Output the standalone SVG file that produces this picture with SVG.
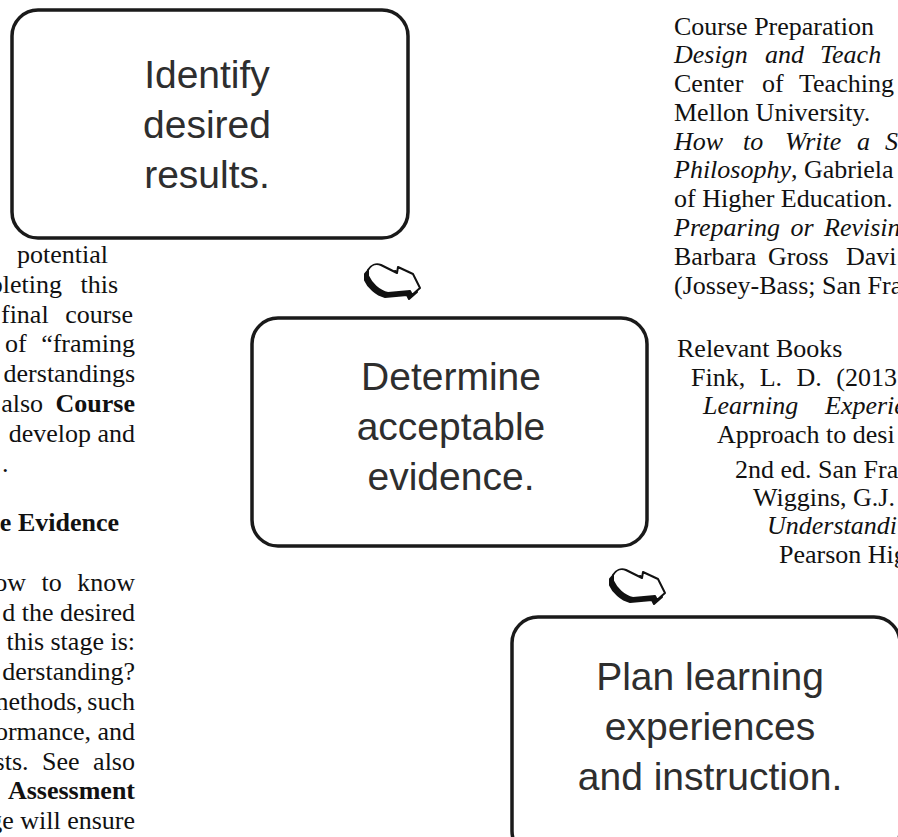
<svg xmlns="http://www.w3.org/2000/svg" width="898" height="837" viewBox="0 0 898 837">
<style>
.box{fill:#fff;stroke:#1a1a1a;stroke-width:3.5}
.bt{font-family:"Liberation Sans",Arial,sans-serif;font-size:39px;fill:#2e2e2e;text-anchor:middle}
.tx{font-family:"Liberation Serif","Times New Roman",serif;font-size:26px;fill:#111}
.l{text-anchor:end}
.b{font-weight:bold}
.i{font-style:italic}
.sh{fill:#111;stroke:#111;stroke-width:2;stroke-linejoin:round}
.ar{fill:#fff;stroke:#111;stroke-width:2;stroke-linejoin:round}
</style>
<defs>
<path id="arr" d="M6,8 C9,3 14,1 19,3 L35,11 L36,5 L51,12 L58,26 L50,33 L48,29 L26,31 C17,29 9,21 6,14 Z"/>
</defs>
<rect width="898" height="837" fill="#fff"/>

<g id="left-text" class="tx">
<text class="l" x="108" y="263">potential</text>
<text class="l" x="118" y="293" word-spacing="12">pleting this</text>
<text class="l" x="133" y="323" word-spacing="10">final course</text>
<text class="l" x="135" y="352" word-spacing="8">of “framing</text>
<text class="l" x="135" y="382">derstandings</text>
<text class="l" x="135" y="412" word-spacing="6">also <tspan class="b">Course</tspan></text>
<text class="l" x="135" y="442">develop and</text>
<text x="2" y="472">.</text>
<text class="l b" x="119" y="531">e Evidence</text>
<text class="l" x="135" y="591" word-spacing="9">ow to know</text>
<text class="l" x="135" y="621">d the desired</text>
<text class="l" x="135" y="650">this stage is:</text>
<text class="l" x="135" y="680">derstanding?</text>
<text class="l" x="135" y="710" word-spacing="-2">nethods, such</text>
<text class="l" x="135" y="740">ormance, and</text>
<text class="l" x="135" y="770" word-spacing="7">sts. See also</text>
<text class="l b" x="135" y="799">Assessment</text>
<text class="l" x="135" y="829">ge will ensure</text>
</g>

<g id="right-text" class="tx">
<text x="674" y="35">Course Preparation</text>
<text class="i" y="63"><tspan x="674">Design</tspan><tspan x="765">and</tspan><tspan x="820">Teach</tspan></text>
<text y="92"><tspan x="674">Center</tspan><tspan x="762">of</tspan><tspan x="799">Teaching</tspan></text>
<text x="674" y="121">Mellon University.</text>
<text class="i" y="150"><tspan x="674">How</tspan><tspan x="743">to</tspan><tspan x="785">Write</tspan><tspan x="857">a</tspan><tspan x="885">S</tspan></text>
<text x="674" y="178"><tspan class="i">Philosophy</tspan>, Gabriela</text>
<text x="674" y="207">of Higher Education.</text>
<text class="i" x="674" y="236" word-spacing="4">Preparing or Revisin</text>
<text y="265"><tspan x="674">Barbara</tspan><tspan x="768">Gross</tspan><tspan x="846">Davi</tspan></text>
<text x="674" y="294">(Jossey-Bass; San Fra</text>
<text x="677" y="357">Relevant Books</text>
<text x="691" y="386" word-spacing="8">Fink, L. D. (2013</text>
<text class="i" y="414"><tspan x="703">Learning</tspan><tspan x="825">Experie</tspan></text>
<text x="717" y="443">Approach to desi</text>
<text x="735" y="478">2nd ed. San Fra</text>
<text x="753" y="506">Wiggins, G.J.</text>
<text class="i" x="767" y="534">Understandi</text>
<text x="779" y="563">Pearson Hig</text>
</g>

<g id="connectors">
<g transform="translate(362,262)">
<use href="#arr" class="sh" transform="translate(-3,4)"/>
<use href="#arr" class="ar"/>
</g>
<g transform="translate(607,567)">
<use href="#arr" class="sh" transform="translate(-3,4)"/>
<use href="#arr" class="ar"/>
</g>
</g>

<g id="node-identify">
<rect class="box" x="12" y="10" width="396" height="228" rx="26"/>
<text class="bt" x="207" y="88">Identify</text>
<text class="bt" x="207" y="138">desired</text>
<text class="bt" x="207" y="188">results.</text>
</g>

<g id="node-determine">
<rect class="box" x="252" y="318" width="395" height="228" rx="26"/>
<text class="bt" x="451" y="390">Determine</text>
<text class="bt" x="451" y="440">acceptable</text>
<text class="bt" x="451" y="490">evidence.</text>
</g>

<g id="node-plan">
<rect class="box" x="512" y="617" width="388" height="240" rx="26"/>
<text class="bt" x="710" y="690">Plan learning</text>
<text class="bt" x="710" y="740">experiences</text>
<text class="bt" x="710" y="790">and instruction.</text>
</g>
</svg>
